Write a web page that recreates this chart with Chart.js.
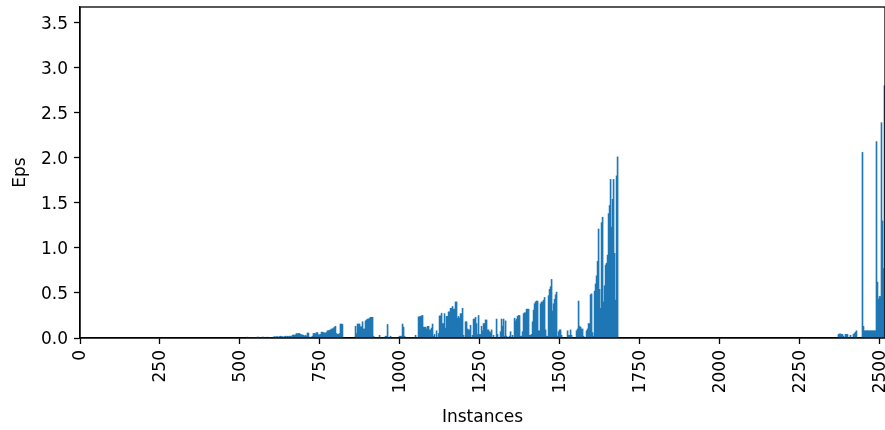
<!DOCTYPE html>
<html>
<head>
<meta charset="utf-8">
<script src="https://cdn.jsdelivr.net/npm/chart.js@4.4.1/dist/chart.umd.min.js"></script>
<style>
  html, body { margin: 0; padding: 0; background: #fff; }
  #epsChart { display: block; }
</style>
</head>
<body>
<canvas id="epsChart" width="885" height="430"></canvas>
<script>
const binWidth = 3.127;
const xMax = 2517;
const yMax = 3.674;
const xTicks = [0, 250, 500, 750, 1000, 1250, 1500, 1750, 2000, 2250, 2500];
const yTicks = [0, 0.5, 1, 1.5, 2, 2.5, 3, 3.5];

// first instance of each run of bins
const segmentStarts = [522, 860, 2370];

const lowRun = [
  0.01, 0, 0, 0, 0, 0, 0, 0, 0, 0,
  0.01, 0.01, 0, 0, 0, 0.01, 0.01, 0, 0, 0,
  0.01, 0, 0, 0, 0, 0, 0.01, 0.015, 0.01, 0.015,
  0.015, 0.01, 0.015, 0.02, 0.015, 0.015, 0.01, 0.015, 0.02, 0.015,
  0.02, 0.015, 0.02, 0.02, 0.015, 0.03, 0.035, 0.03, 0.035, 0.05,
  0.045, 0.05, 0.05, 0.04, 0.035, 0.035, 0.03, 0.02, 0.03, 0.02,
  0.055, 0.055, 0.01, 0, 0.01, 0.02, 0.05, 0.05, 0.045, 0.06,
  0.06, 0.035, 0.035, 0.04, 0.065, 0.065, 0.06, 0.055, 0.055, 0.06,
  0.08, 0.08, 0.085, 0.09, 0.1, 0.1, 0.11, 0.12, 0.13, 0.05,
  0.04, 0.04, 0.05, 0.155, 0.155, 0.15
];

const mainRun = [
  0.13, 0.05, 0.155, 0.155, 0.155, 0.125, 0.125, 0.18, 0.1, 0.1,
  0.19, 0.2, 0.21, 0.21, 0.22, 0.23, 0.23, 0.23, 0.02, 0,
  0, 0, 0, 0, 0.03, 0, 0, 0, 0, 0,
  0.02, 0.02, 0.15, 0, 0, 0.02, 0, 0, 0, 0,
  0, 0, 0, 0, 0.02, 0.02, 0.02, 0.155, 0.12, 0.02,
  0, 0, 0, 0, 0, 0, 0, 0, 0, 0,
  0.03, 0, 0, 0.235, 0.235, 0.24, 0.245, 0.25, 0.12, 0.12,
  0.12, 0.1, 0.13, 0.13, 0.09, 0.09, 0.11, 0.155, 0.02, 0.04,
  0, 0.08, 0, 0.05, 0.245, 0.245, 0.275, 0.16, 0.16, 0.27,
  0.11, 0.24, 0.24, 0.29, 0.29, 0.33, 0.33, 0.35, 0.32, 0.32,
  0.4, 0.4, 0.22, 0.24, 0.22, 0.27, 0.27, 0.33, 0.03, 0,
  0.18, 0.18, 0.1, 0.09, 0.09, 0.14, 0, 0.03, 0.21, 0.21,
  0.23, 0.16, 0.04, 0.25, 0.04, 0.04, 0.13, 0.08, 0.16, 0.16,
  0.2, 0.2, 0.09, 0.09, 0.07, 0.06, 0.09, 0, 0.03, 0,
  0, 0.21, 0.04, 0, 0, 0.07, 0.21, 0.13, 0.21, 0.02,
  0.19, 0.02, 0, 0, 0.02, 0.07, 0, 0.03, 0, 0.22,
  0.19, 0.21, 0.24, 0.25, 0.25, 0.02, 0.02, 0.07, 0.27, 0.28,
  0.28, 0.32, 0.32, 0.32, 0.03, 0.03, 0.04, 0.18, 0.31, 0.38,
  0.4, 0.41, 0.41, 0.08, 0.08, 0.38, 0.4, 0.4, 0.42, 0.45,
  0.09, 0.02, 0.02, 0.47, 0.54, 0.57, 0.65, 0.3, 0.38, 0.43,
  0.48, 0.51, 0.02, 0.07, 0.09, 0.09, 0.03, 0, 0, 0,
  0, 0, 0.08, 0.03, 0.03, 0.09, 0.03, 0, 0, 0,
  0, 0.08, 0.1, 0.41, 0.13, 0.12, 0.1, 0.1, 0.02, 0,
  0, 0.08, 0.1, 0.16, 0.16, 0.48, 0.49, 0.06, 0.02, 0.52,
  0.6, 0.69, 0.85, 1.21, 0.54, 0.33, 1.28, 1.34, 0.4, 0.58,
  0.81, 0.83, 0.92, 1.38, 1.47, 1.76, 1.23, 1.54, 1.76, 0.94,
  0.42, 1.8, 2.01
];

const tailRun = [
  0.04, 0.045, 0.045, 0.04, 0.04, 0.02, 0, 0.04, 0.04, 0.04,
  0, 0, 0.03, 0, 0, 0.04, 0.05, 0.065, 0.08, 0,
  0, 0, 0, 0, 2.06, 0.13, 0.08, 0.08, 0.08, 0.08,
  0.08, 0.08, 0.08, 0.08, 0.08, 0.08, 0.08, 0.08, 2.18, 0.62,
  0.43, 0.46, 0.46, 2.39, 1.3, 0.77, 2.8
];

const runs = [lowRun, mainRun, tailRun];

const points = [];
runs.forEach((run, r) => {
  run.forEach((value, k) => {
    points.push({ x: segmentStarts[r] + (k + 0.5) * binWidth, y: value });
  });
});

const ink = "#000000";
const barColor = "#1f77b4";
const font = { family: "DejaVu Sans, sans-serif", size: 17 };

const frame = {
  id: "frame",
  afterDraw(chart) {
    const { ctx, chartArea } = chart;
    ctx.save();
    ctx.strokeStyle = ink;
    ctx.lineWidth = 1.3;
    ctx.strokeRect(chartArea.left, chartArea.top, chartArea.right - chartArea.left, chartArea.bottom - chartArea.top);
    ctx.restore();
  }
};

const keepTicks = (list) => (scale) => {
  scale.ticks = list.map((value) => ({ value }));
};

new Chart(document.getElementById("epsChart"), {
  type: "bar",
  data: {
    datasets: [{
      data: points,
      backgroundColor: barColor,
      borderWidth: 0,
      barPercentage: 1,
      categoryPercentage: 1
    }]
  },
  options: {
    responsive: false,
    animation: false,
    devicePixelRatio: 1,
    layout: { padding: { top: 7, right: 0, bottom: 0, left: 0 } },
    plugins: {
      legend: { display: false },
      tooltip: { enabled: false }
    },
    scales: {
      x: {
        type: "linear",
        offset: false,
        min: 0,
        max: xMax,
        afterBuildTicks: keepTicks(xTicks),
        afterFit: (scale) => {
          scale.height = 92;
          scale.paddingLeft = 0;
          scale.paddingRight = 0;
        },
        ticks: {
          color: ink,
          font,
          padding: 6,
          labelOffset: 1,
          minRotation: 90,
          maxRotation: 90,
          autoSkip: false,
          callback: (value) => String(value)
        },
        grid: { offset: false, drawOnChartArea: false, drawTicks: true, tickLength: 6, tickColor: ink, tickWidth: 1.3 },
        border: { display: true, color: ink, width: 1.3 },
        title: { display: true, text: "Instances", color: ink, font, padding: { top: 0, bottom: 2 } }
      },
      y: {
        min: 0,
        max: yMax,
        afterBuildTicks: keepTicks(yTicks),
        afterFit: (scale) => {
          scale.width = 80;
          scale.paddingTop = 0;
          scale.paddingBottom = 0;
        },
        ticks: {
          color: ink,
          font,
          padding: 6,
          labelOffset: 1.5,
          autoSkip: false,
          callback: (value) => value.toFixed(1)
        },
        grid: { drawOnChartArea: false, drawTicks: true, tickLength: 6, tickColor: ink, tickWidth: 1.3 },
        border: { display: true, color: ink, width: 1.3 },
        title: { display: true, text: "Eps", color: ink, font, padding: { top: 10, bottom: 0 } }
      }
    }
  },
  plugins: [frame]
});
</script>
</body>
</html>
